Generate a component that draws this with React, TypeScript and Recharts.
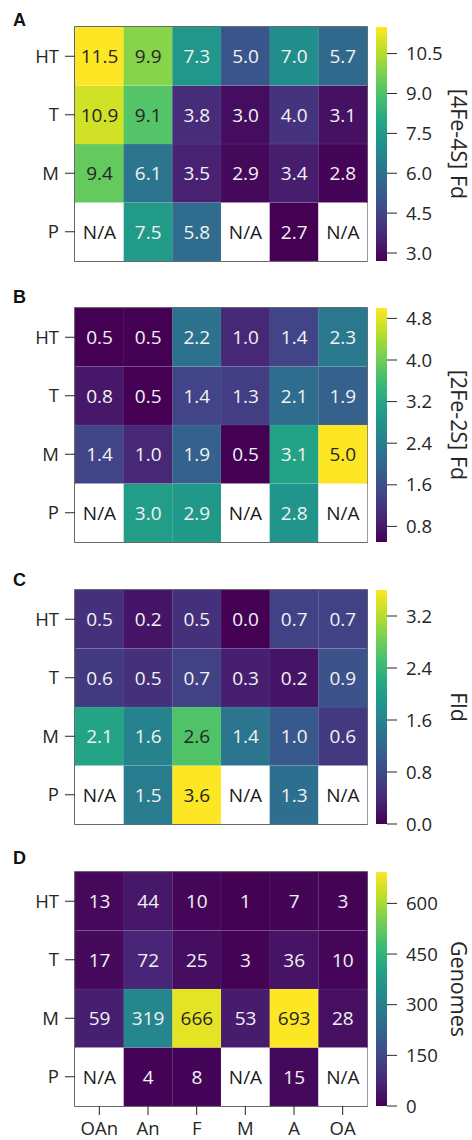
import { BarChart, Bar, XAxis, YAxis, Cell, LabelList, ReferenceArea } from "recharts";

const COLUMNS = ["OAn", "An", "F", "M", "A", "OA"];
// heatmap rows, top to bottom
const ROWS = ["HT", "T", "M", "P"];

const FE4S = [
  [11.5, 9.9, 7.3, 5.0, 7.0, 5.7],
  [10.9, 9.1, 3.8, 3.0, 4.0, 3.1],
  [9.4, 6.1, 3.5, 2.9, 3.4, 2.8],
  [null, 7.5, 5.8, null, 2.7, null],
];
const FE2S = [
  [0.5, 0.5, 2.2, 1.0, 1.4, 2.3],
  [0.8, 0.5, 1.4, 1.3, 2.1, 1.9],
  [1.4, 1.0, 1.9, 0.5, 3.1, 5.0],
  [null, 3.0, 2.9, null, 2.8, null],
];
const FLD = [
  [0.5, 0.2, 0.5, 0.0, 0.7, 0.7],
  [0.6, 0.5, 0.7, 0.3, 0.2, 0.9],
  [2.1, 1.6, 2.6, 1.4, 1.0, 0.6],
  [null, 1.5, 3.6, null, 1.3, null],
];
const GENOMES = [
  [13, 44, 10, 1, 7, 3],
  [17, 72, 25, 3, 36, 10],
  [59, 319, 666, 53, 693, 28],
  [null, 4, 8, null, 15, null],
];

const FE4S_TICKS = [3.0, 4.5, 6.0, 7.5, 9.0, 10.5];
const FE2S_TICKS = [0.8, 1.6, 2.4, 3.2, 4.0, 4.8];
const FLD_TICKS = [0, 0.8, 1.6, 2.4, 3.2];
const GENOME_TICKS = [0, 150, 300, 450, 600];

const PANELS = [
  { letter: "A", values: FE4S, ticks: FE4S_TICKS, label: "[4Fe-4S] Fd", decimals: 1, vmin: null },
  { letter: "B", values: FE2S, ticks: FE2S_TICKS, label: "[2Fe-2S] Fd", decimals: 1, vmin: null },
  { letter: "C", values: FLD, ticks: FLD_TICKS, label: "Fld", decimals: 1, vmin: null },
  { letter: "D", values: GENOMES, ticks: GENOME_TICKS, label: "Genomes", decimals: 0, vmin: 0 },
];

// layout (px)
const BOX_TOPS = [27, 308, 590, 872];
const LETTER_BASELINES = [26, 303, 586, 864];
const BOX_H = 234;
const TEXT = "#262626";
const FONT = 18.5;

const VIRIDIS = [
  "#440154", "#482475", "#414487", "#355f8d", "#2a788e", "#21918c",
  "#22a884", "#44bf70", "#7ad151", "#bddf26", "#fde725",
];

function hexToRgb(h: string) {
  return [1, 3, 5].map((i) => parseInt(h.slice(i, i + 2), 16));
}

function viridis(t: number) {
  const c = Math.max(0, Math.min(1, t)) * (VIRIDIS.length - 1);
  const i = Math.min(Math.floor(c), VIRIDIS.length - 2);
  const f = c - i;
  const a = hexToRgb(VIRIDIS[i]);
  const b = hexToRgb(VIRIDIS[i + 1]);
  const m = a.map((v, k) => Math.round(v + (b[k] - v) * f));
  return `rgb(${m[0]},${m[1]},${m[2]})`;
}

function extent(values: (number | null)[][]) {
  const flat = values.flat().filter((v): v is number => v != null);
  return [Math.min(...flat), Math.max(...flat)];
}

function buildRows(values: (number | null)[][], vmin: number, vmax: number, decimals: number) {
  return COLUMNS.map((col, ci) => {
    const d: any = { col };
    ROWS.forEach((row, ri) => {
      const v = values[ri][ci];
      const t = v == null ? 0 : (v - vmin) / (vmax - vmin);
      d[row] = 1;
      d[row + "_t"] = v == null ? "N/A" : v.toFixed(decimals);
      d[row + "_fill"] = v == null ? "#ffffff" : viridis(t);
      d[row + "_ink"] = v == null ? "#1a1a1a" : t > 0.65 ? "#262626" : "#f2f2f2";
    });
    return d;
  });
}

function Heatmap({ panel, showX }: { panel: any; showX: boolean }) {
  const [dmin, dmax] = extent(panel.values);
  const vmin = panel.vmin ?? dmin;
  const data = buildRows(panel.values, vmin, dmax, panel.decimals);
  const stackOrder = [...ROWS].reverse();
  return (
    <BarChart
      width={380}
      height={showX ? BOX_H + 50 : BOX_H + 20}
      data={data}
      margin={{ top: 10, right: 13, bottom: showX ? 8 : 10, left: 0 }}
      barCategoryGap={0}
      barGap={0}
    >
      <XAxis
        dataKey="col"
        hide={!showX}
        height={32}
        interval={0}
        tickSize={9}
        tickMargin={7}
        axisLine={false}
        tick={{ fill: TEXT, fontSize: FONT }}
        tickLine={{ stroke: TEXT }}
      />
      <YAxis
        type="number"
        domain={[0, 4]}
        ticks={[0.5, 1.5, 2.5, 3.5]}
        interval={0}
        tickFormatter={(v) => ROWS[Math.round(3.5 - v)]}
        width={75}
        tickSize={10}
        tickMargin={6}
        axisLine={false}
        tick={{ fill: TEXT, fontSize: FONT }}
        tickLine={{ stroke: TEXT }}
      />
      {stackOrder.map((row) => (
        <Bar key={row} dataKey={row} stackId="cells" isAnimationActive={false}>
          {data.map((d, i) => (
            <Cell key={i} fill={d[row + "_fill"]} stroke="rgba(255,255,255,0.1)" strokeWidth={0.6} />
          ))}
          <LabelList
            dataKey={row + "_t"}
            content={(p: any) => {
              const vb = p.viewBox ?? p;
              const ink = data[p.index]?.[row + "_ink"] ?? TEXT;
              return (
                <text
                  x={vb.x + vb.width / 2}
                  y={vb.y + vb.height / 2}
                  textAnchor="middle"
                  dominantBaseline="central"
                  fontSize={FONT + 0.5}
                  fill={ink}
                >
                  {p.value}
                </text>
              );
            }}
          />
        </Bar>
      ))}
      <ReferenceArea
        x1={COLUMNS[0]}
        x2={COLUMNS[COLUMNS.length - 1]}
        y1={0}
        y2={4}
        fill="none"
        fillOpacity={0}
        stroke="#333"
        strokeWidth={1.5}
        ifOverflow="visible"
      />
    </BarChart>
  );
}

function ColorBar({ panel, id }: { panel: any; id: string }) {
  const [dmin, dmax] = extent(panel.values);
  const vmin = panel.vmin ?? dmin;
  const data = [{ k: panel.label, range: [vmin, dmax] }];
  return (
    <BarChart
      width={472}
      height={BOX_H + 30}
      data={data}
      margin={{ top: 10, right: 25, bottom: 20, left: 376 }}
      barCategoryGap={0}
    >
      <XAxis dataKey="k" hide />
      <YAxis
        orientation="right"
        type="number"
        domain={[vmin, dmax]}
        ticks={panel.ticks}
        interval={0}
        tickFormatter={(v) => (panel.decimals ? Number(v).toFixed(1) : String(v))}
        width={60}
        tickSize={10}
        tickMargin={9}
        axisLine={false}
        tick={{ fill: TEXT, fontSize: FONT }}
        tickLine={{ stroke: TEXT }}
        label={{
          content: (p: any) => {
            const vb = p.viewBox ?? { x: 387, y: 10, width: 60, height: BOX_H };
            const cx = vb.x + vb.width + 12;
            const cy = vb.y + vb.height / 2;
            return (
              <text
                x={cx}
                y={cy}
                transform={`rotate(90 ${cx} ${cy})`}
                textAnchor="middle"
                dominantBaseline="central"
                fontSize={21.5}
                fill={TEXT}
              >
                {panel.label}
              </text>
            );
          },
        }}
      />
      <Bar
        dataKey="range"
        isAnimationActive={false}
        shape={(p: any) => (
          <g>
            <defs>
              <linearGradient id={id} x1="0" y1="1" x2="0" y2="0">
                {VIRIDIS.map((c, i) => (
                  <stop key={i} offset={i / (VIRIDIS.length - 1)} stopColor={c} />
                ))}
              </linearGradient>
            </defs>
            <rect x={p.x} y={p.y} width={p.width} height={p.height} fill={`url(#${id})`} />
          </g>
        )}
      />
    </BarChart>
  );
}

export default function App() {
  return (
    <div
      style={{
        position: "absolute",
        left: 0,
        top: 0,
        width: 472,
        height: 1140,
        overflow: "hidden",
        background: "#fff",
        fontFamily: "'Open Sans', 'Noto Sans', sans-serif",
      }}
    >
      {PANELS.map((panel, i) => (
        <div key={panel.letter}>
          <div
            style={{
              position: "absolute",
              left: 13,
              top: LETTER_BASELINES[i] - 15.3,
              fontFamily: "'Liberation Sans', Arial, sans-serif",
              fontWeight: "bold",
              fontSize: 18,
              lineHeight: "18px",
              color: "#111",
            }}
          >
            {panel.letter}
          </div>
          <div style={{ position: "absolute", left: 0, top: BOX_TOPS[i] - 10 }}>
            <Heatmap panel={panel} showX={i === PANELS.length - 1} />
          </div>
          <div style={{ position: "absolute", left: 0, top: BOX_TOPS[i] - 10 }}>
            <ColorBar panel={panel} id={`cbar-${panel.letter}`} />
          </div>
        </div>
      ))}
    </div>
  );
}
